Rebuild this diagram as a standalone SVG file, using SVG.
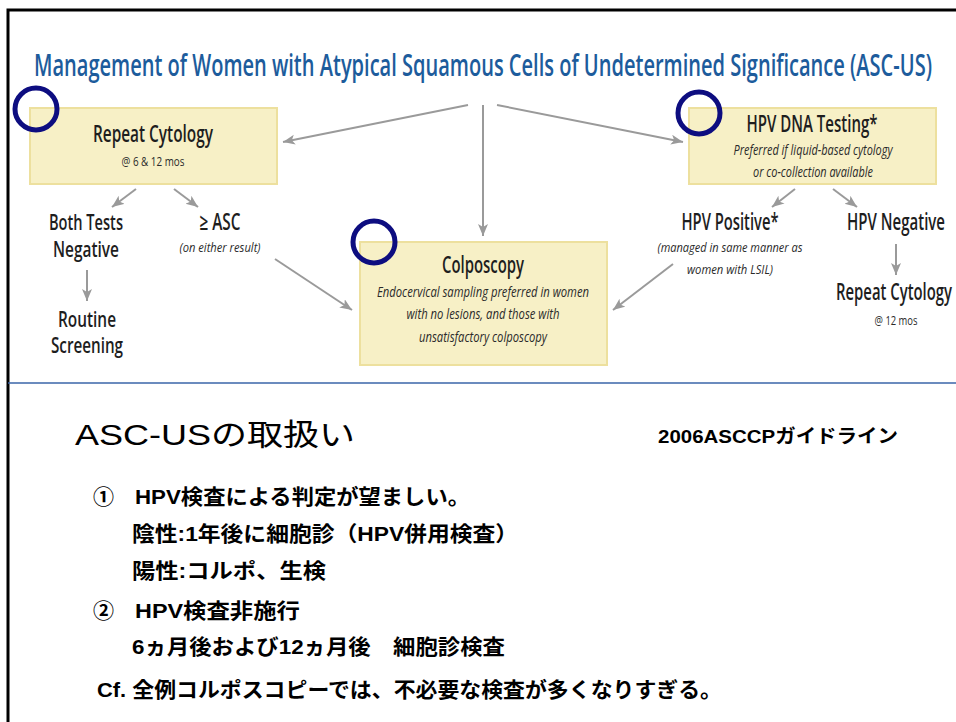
<svg xmlns="http://www.w3.org/2000/svg" width="956" height="722" viewBox="0 0 956 722">
<style>
.box{fill:#f7f0c6;stroke:#ede09e;stroke-width:2}
.ring{fill:none;stroke:#0d0d80;stroke-width:5}
.t{font-family:"Open Sans","Liberation Sans",sans-serif;font-weight:600;fill:#1e1e1e;text-anchor:middle}
.s{font-family:"Open Sans","Liberation Sans",sans-serif;font-style:italic;fill:#2a2a2a;text-anchor:middle}
.n{font-family:"Open Sans","Liberation Sans",sans-serif;fill:#2a2a2a;text-anchor:middle}
.jp{font-family:"Liberation Sans","Noto Sans CJK JP",sans-serif;fill:#000}
.jb{font-family:"Liberation Sans","Noto Sans CJK JP",sans-serif;font-weight:bold;fill:#000}
.c{stroke:#9a9a9a;stroke-width:2;fill:none;marker-end:url(#ah)}
</style>
<defs>
<marker id="ah" markerUnits="userSpaceOnUse" markerWidth="14" markerHeight="12" refX="12" refY="5" orient="auto">
<path d="M0,0 L12,5 L0,10 L3,5 z" fill="#9a9a9a"/>
</marker>
</defs>
<rect width="956" height="722" fill="#fff"/>
<path d="M8,722 V10 H956" fill="none" stroke="#000" stroke-width="3"/>
<line x1="8" y1="383" x2="956" y2="383" stroke="#3a64a8" stroke-width="1.5"/>

<text x="34" y="76" font-family="'Open Sans','Liberation Sans',sans-serif" font-weight="600" font-size="31" fill="#1d5c9c" textLength="898" lengthAdjust="spacingAndGlyphs">Management of Women with Atypical Squamous Cells of Undetermined Significance (ASC-US)</text>

<g id="connectors">
<line class="c" x1="468" y1="105" x2="283" y2="142"/>
<line class="c" x1="483" y1="105" x2="483" y2="236"/>
<line class="c" x1="497" y1="105" x2="683" y2="142"/>
<line class="c" x1="136" y1="189" x2="112" y2="207"/>
<line class="c" x1="174" y1="189" x2="198" y2="207"/>
<line class="c" x1="87" y1="270" x2="87" y2="301"/>
<line class="c" x1="275" y1="259" x2="352" y2="310"/>
<line class="c" x1="795" y1="189" x2="772" y2="207"/>
<line class="c" x1="833" y1="189" x2="857" y2="207"/>
<line class="c" x1="896" y1="244" x2="896" y2="275"/>
<line class="c" x1="673" y1="264" x2="613" y2="310"/>
</g>

<g id="repeat-cytology">
<rect class="box" x="30" y="108" width="247" height="76"/>
<text class="t" x="153" y="142" font-size="23" textLength="120" lengthAdjust="spacingAndGlyphs">Repeat Cytology</text>
<text class="n" x="153" y="166" font-size="13" textLength="63" lengthAdjust="spacingAndGlyphs">@ 6 &amp; 12 mos</text>
</g>

<g id="both-negative">
<text class="t" x="86" y="230" font-size="21" textLength="74" lengthAdjust="spacingAndGlyphs">Both Tests</text>
<text class="t" x="86" y="257" font-size="21" textLength="66" lengthAdjust="spacingAndGlyphs">Negative</text>
</g>

<g id="routine-screening">
<text class="t" x="87" y="327" font-size="21" textLength="58" lengthAdjust="spacingAndGlyphs">Routine</text>
<text class="t" x="87" y="353" font-size="21" textLength="72" lengthAdjust="spacingAndGlyphs">Screening</text>
</g>

<g id="asc">
<text class="t" x="220" y="230" font-size="23" textLength="41" lengthAdjust="spacingAndGlyphs">≥ ASC</text>
<text class="s" x="220" y="252" font-size="13" textLength="81" lengthAdjust="spacingAndGlyphs">(on either result)</text>
</g>

<g id="colposcopy">
<rect class="box" x="360" y="242" width="247" height="123"/>
<text class="t" x="483" y="273" font-size="23" textLength="82" lengthAdjust="spacingAndGlyphs">Colposcopy</text>
<text class="s" x="483" y="297" font-size="14" textLength="212" lengthAdjust="spacingAndGlyphs">Endocervical sampling preferred in women</text>
<text class="s" x="483" y="319" font-size="14" textLength="153" lengthAdjust="spacingAndGlyphs">with no lesions, and those with</text>
<text class="s" x="483" y="342" font-size="14" textLength="128" lengthAdjust="spacingAndGlyphs">unsatisfactory colposcopy</text>
</g>

<g id="hpv-dna-testing">
<rect class="box" x="689" y="108" width="247" height="76"/>
<text class="t" x="812" y="132" font-size="23" textLength="131" lengthAdjust="spacingAndGlyphs">HPV DNA Testing*</text>
<text class="s" x="813" y="155" font-size="14" textLength="159" lengthAdjust="spacingAndGlyphs">Preferred if liquid-based cytology</text>
<text class="s" x="813" y="177" font-size="14" textLength="120" lengthAdjust="spacingAndGlyphs">or co-collection available</text>
</g>

<g id="hpv-positive">
<text class="t" x="730" y="230" font-size="23" textLength="97" lengthAdjust="spacingAndGlyphs">HPV Positive*</text>
<text class="s" x="730" y="252" font-size="13" textLength="145" lengthAdjust="spacingAndGlyphs">(managed in same manner as</text>
<text class="s" x="730" y="274" font-size="13" textLength="86" lengthAdjust="spacingAndGlyphs">women with LSIL)</text>
</g>

<g id="hpv-negative">
<text class="t" x="945" y="230" font-size="23" text-anchor="end" style="text-anchor:end" textLength="98" lengthAdjust="spacingAndGlyphs">HPV Negative</text>
</g>

<g id="repeat-cytology-12">
<text class="t" x="952" y="300" font-size="23" style="text-anchor:end" textLength="116" lengthAdjust="spacingAndGlyphs">Repeat Cytology</text>
<text class="n" x="896" y="325" font-size="13" textLength="43" lengthAdjust="spacingAndGlyphs">@ 12 mos</text>
</g>

<circle class="ring" cx="36" cy="109" r="21"/>
<circle class="ring" cx="699" cy="113" r="21"/>
<circle class="ring" cx="374" cy="242" r="21"/>

<g id="japanese-notes">
<text class="jp" x="75" y="445" font-size="30" textLength="280" lengthAdjust="spacingAndGlyphs">ASC-USの取扱い</text>
<text class="jb" x="658" y="443" font-size="19" textLength="240" lengthAdjust="spacingAndGlyphs">2006ASCCPガイドライン</text>
<text class="jb" x="93" y="504" font-size="21">①</text>
<text class="jb" x="135" y="504" font-size="21" textLength="335" lengthAdjust="spacingAndGlyphs">HPV検査による判定が望ましい。</text>
<text class="jb" x="132" y="541" font-size="21" textLength="386" lengthAdjust="spacingAndGlyphs">陰性:1年後に細胞診（HPV併用検査）</text>
<text class="jb" x="132" y="578" font-size="21" textLength="194" lengthAdjust="spacingAndGlyphs">陽性:コルポ、生検</text>
<text class="jb" x="93" y="618" font-size="21">②</text>
<text class="jb" x="135" y="618" font-size="21" textLength="165" lengthAdjust="spacingAndGlyphs">HPV検査非施行</text>
<text class="jb" x="132" y="654" font-size="21" textLength="373" lengthAdjust="spacingAndGlyphs">6ヵ月後および12ヵ月後　細胞診検査</text>
<text class="jb" x="97" y="697" font-size="21" textLength="625" lengthAdjust="spacingAndGlyphs">Cf. 全例コルポスコピーでは、不必要な検査が多くなりすぎる。</text>
</g>
</svg>
